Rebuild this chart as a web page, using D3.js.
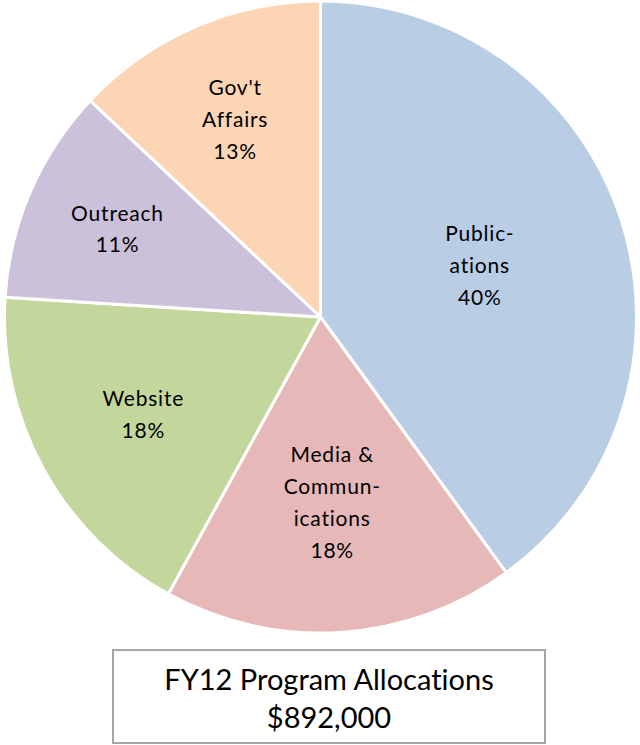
<!DOCTYPE html>
<html>
<head>
<meta charset="utf-8">
<script src="https://cdn.jsdelivr.net/npm/d3@7"></script>
<style>
  body { margin: 0; background: #fff; }
  svg { display: block; font-family: Lato, 'Open Sans', sans-serif; font-variant-ligatures: none; }
</style>
</head>
<body>
<div id="chart"></div>
<script>
// Chart data
const categories = ['Publications', 'Media & Communications', 'Website', 'Outreach', "Gov't Affairs"];
const shares = [40, 18, 18, 11, 13];
const labelLines = [
    ['Public-', 'ations'],
    ['Media &', 'Commun-', 'ications'],
    ['Website'],
    ['Outreach'],
    ["Gov't", 'Affairs']
];
const colors = ['#b9cde5', '#e6b9b8', '#c3d69b', '#ccc1da', '#fcd5b5'];
const titleLines = ['FY12 Program Allocations', '$892,000'];

// Layout
const width = 640, height = 745;
const cx = 320.5, cy = 317, radius = 316;
// label distance from centre, as a fraction of the radius
const labelRadius = [0.53, 0.59, 0.64, 0.70, 0.68];

const svg = d3.select('#chart')
    .append('svg')
    .attr('width', width)
    .attr('height', height);

const g = svg.append('g')
    .attr('transform', `translate(${cx},${cy})`);

const pie = d3.pie().sort(null).value(d => d.value);
const arc = d3.arc().innerRadius(0).outerRadius(radius);

const data = categories.map((c, i) => ({ name: c, value: shares[i], lines: labelLines[i], color: colors[i], lr: labelRadius[i] }));
const arcs = pie(data);

// Slices
g.selectAll('.slice')
    .data(arcs)
    .enter().append('path')
    .attr('class', 'slice')
    .attr('d', arc)
    .attr('fill', d => d.data.color)
    .attr('stroke', '#fff')
    .attr('stroke-width', 3)
    .attr('stroke-linejoin', 'round');

// Labels
const lineHeight = 32;
const labels = g.selectAll('.label')
    .data(arcs)
    .enter().append('text')
    .attr('class', 'label')
    .attr('text-anchor', 'middle')
    .style('font-size', '21px')
    .style('letter-spacing', '0.8px')
    .attr('fill', '#000')
    .attr('transform', d => {
        const r = d.data.lr * radius;
        const [x, y] = d3.arc().innerRadius(r).outerRadius(r).centroid(d);
        return `translate(${x},${y})`;
    });

labels.each(function(d) {
    const t = d3.select(this);
    const lines = d.data.lines.concat([`${d.data.value}%`]);
    const y0 = -(lines.length - 1) * lineHeight / 2;
    lines.forEach((line, i) => {
        t.append('tspan')
            .attr('x', 0)
            .attr('y', y0 + i * lineHeight)
            .attr('dy', '0.35em')
            .text(line);
    });
});

// Title box
const box = svg.append('g').attr('transform', 'translate(113,650)');
box.append('rect')
    .attr('width', 432)
    .attr('height', 93)
    .attr('fill', '#fff')
    .attr('stroke', '#a6a6a6')
    .attr('stroke-width', 2);

box.selectAll('.title')
    .data(titleLines)
    .enter().append('text')
    .attr('class', 'title')
    .attr('x', 216)
    .attr('y', (d, i) => 30 + i * 38)
    .attr('dy', '0.35em')
    .attr('text-anchor', 'middle')
    .style('font-size', '29px')
    .attr('fill', '#000')
    .text(d => d);
</script>
</body>
</html>
